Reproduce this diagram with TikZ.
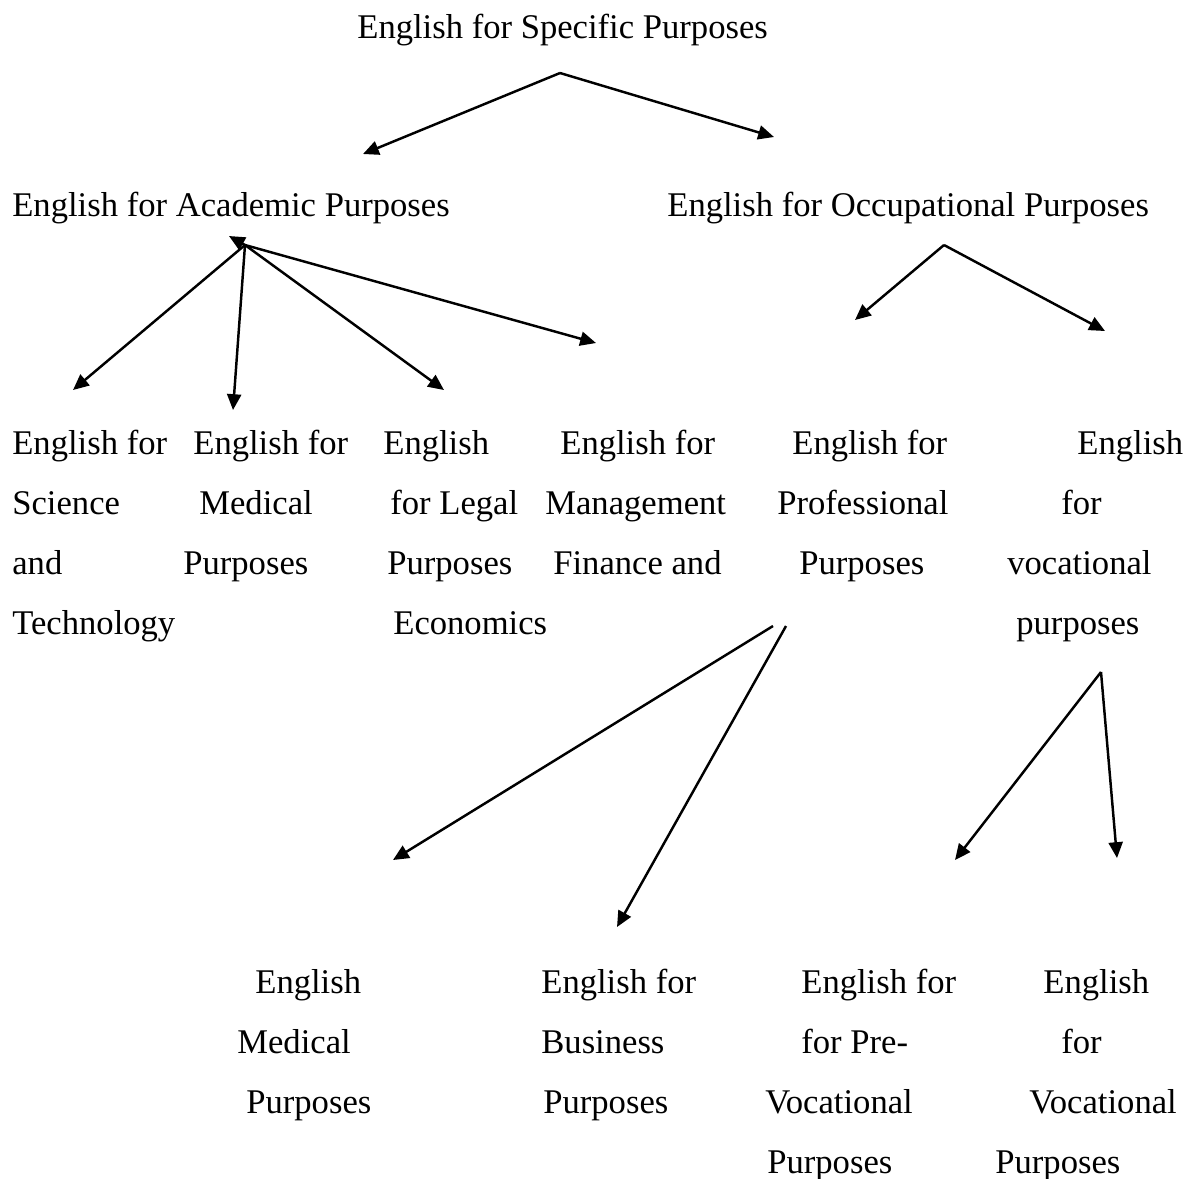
\documentclass[tikz,border=0pt]{standalone}
\usepackage{fontspec}
\setmainfont{Liberation Serif}
\usetikzlibrary{arrows.meta}
\begin{document}
\begin{tikzpicture}[x=0.02cm,y=-0.02cm,
  lbl/.style={anchor=base west,inner sep=0pt,font=\fontsize{19.7}{24}\selectfont},
  conn/.style={line width=1.4pt,-{Triangle[length=9pt,width=8pt]}}]
\useasboundingbox (0,0) rectangle (1192,1178);
% texts
\node[lbl] (esp) at (357,38) {English for Specific Purposes};
\node[lbl] (eap) at (12,216) {English for Academic Purposes};
\node[lbl] (eop) at (667,216) {English for Occupational Purposes};
% row 1 columns
\node[lbl] (c1a) at (12,454) {English for};
\node[lbl] (c1b) at (12,514) {Science};
\node[lbl] (c1c) at (12,574) {and};
\node[lbl] (c1d) at (12,634) {Technology};
\node[lbl] (c2a) at (193,454) {English for};
\node[lbl] (c2b) at (199,514) {Medical};
\node[lbl] (c2c) at (183,574) {Purposes};
\node[lbl] (c3a) at (383,454) {English};
\node[lbl] (c3b) at (390,514) {for Legal};
\node[lbl] (c3c) at (387,574) {Purposes};
\node[lbl] (c3d) at (393,634) {Economics};
\node[lbl] (c4a) at (560,454) {English for};
\node[lbl] (c4b) at (545,514) {Management};
\node[lbl] (c4c) at (553,574) {Finance and};
\node[lbl] (c5a) at (792,454) {English for};
\node[lbl] (c5b) at (777,514) {Professional};
\node[lbl] (c5c) at (799,574) {Purposes};
\node[lbl] (c6a) at (1077,454) {English};
\node[lbl] (c6b) at (1061,514) {for};
\node[lbl] (c6c) at (1007,574) {vocational};
\node[lbl] (c6d) at (1016,634) {purposes};
% bottom
\node[lbl] (b1a) at (255,993) {English};
\node[lbl] (b1b) at (237,1053) {Medical};
\node[lbl] (b1c) at (246,1113) {Purposes};
\node[lbl] (b2a) at (541,993) {English for};
\node[lbl] (b2b) at (541,1053) {Business};
\node[lbl] (b2c) at (543,1113) {Purposes};
\node[lbl] (b3a) at (801,993) {English for};
\node[lbl] (b3b) at (801,1053) {for Pre-};
\node[lbl] (b3c) at (765,1113) {Vocational};
\node[lbl] (b3d) at (767,1173) {Purposes};
\node[lbl] (b4a) at (1043,993) {English};
\node[lbl] (b4b) at (1061,1053) {for};
\node[lbl] (b4c) at (1029,1113) {Vocational};
\node[lbl] (b4d) at (995,1173) {Purposes};
% connector points
\coordinate (p0) at (560,73);
\coordinate (t1) at (363,154);
\coordinate (t2) at (774,137);
\coordinate (p1) at (245,245);
\coordinate (t0) at (229,236);
\coordinate (t3) at (73,390);
\coordinate (t4) at (233,410);
\coordinate (t5) at (444,390);
\coordinate (t6) at (596,343);
\coordinate (p2) at (944,245);
\coordinate (t7) at (855,320);
\coordinate (t8) at (1105,331);
\coordinate (p3) at (773,626);
\coordinate (t9) at (393,860);
\coordinate (p4) at (786,626);
\coordinate (t10) at (617,927);
\coordinate (p5) at (1101,672);
\coordinate (t11) at (955,860);
\coordinate (t12) at (1117,858);
% connectors
\draw[conn] (p0) -- (t1);
\draw[conn] (p0) -- (t2);
\draw[conn] (p1) -- (t0);
\draw[conn] (p1) -- (t3);
\draw[conn] (p1) -- (t4);
\draw[conn] (p1) -- (t5);
\draw[conn] (p1) -- (t6);
\draw[conn] (p2) -- (t7);
\draw[conn] (p2) -- (t8);
\draw[conn] (p3) -- (t9);
\draw[conn] (p4) -- (t10);
\draw[conn] (p5) -- (t11);
\draw[conn] (p5) -- (t12);
\end{tikzpicture}
\end{document}
